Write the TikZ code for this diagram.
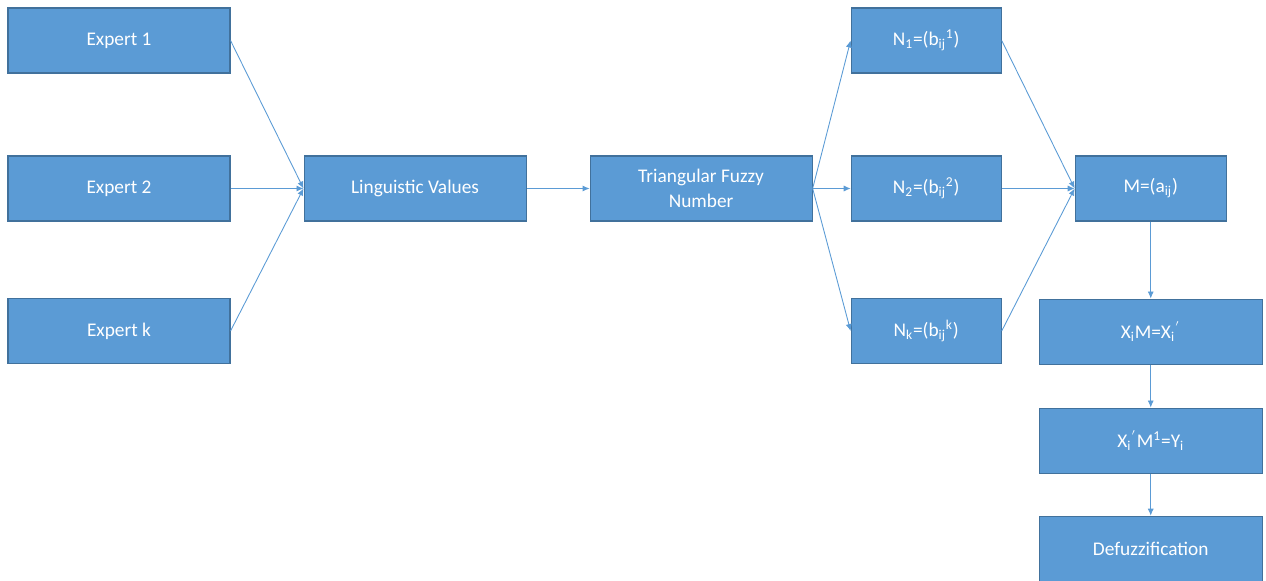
\documentclass[tikz,border=0pt]{standalone}
\usepackage{fontspec}
\setmainfont{Carlito}
\usetikzlibrary{arrows.meta, positioning}
\definecolor{boxblue}{RGB}{91,155,213}
\definecolor{edgeblue}{RGB}{65,113,156}

\begin{document}
\begin{tikzpicture}[
    box/.style={draw=edgeblue, line width=0.6pt, fill=boxblue, text=white, minimum height=1.3cm, minimum width=4.44cm, align=center, font=\fontsize{11}{14}\selectfont, inner sep=1pt},
    smallbox/.style={box, minimum width=3cm},
    arrow/.style={-{Latex[length=4pt, width=3.5pt]}, line width=0.5pt, draw=boxblue}
]
    \useasboundingbox (0,0) rectangle (25.32,-11.6);

    % Experts on the left
    \node[box] (expert1) at (2.38,-0.81) {Expert 1};
    \node[box] (expert2) at (2.38,-3.77) {Expert 2};
    \node[box] (expertk) at (2.38,-6.62) {Expert k};

    % Middle chain
    \node[box, right=1.46cm of expert2] (linguistic) {Linguistic Values};
    \node[box, right=1.26cm of linguistic] (triangular) {Triangular Fuzzy\\Number};

    % Fuzzy matrices
    \node[smallbox, right=0.76cm of triangular] (n2) {N\textsubscript{2}=(b\textsubscript{ij}\textsuperscript{2})};
    \node[smallbox] (n1) at (n2 |- expert1) {N\textsubscript{1}=(b\textsubscript{ij}\textsuperscript{1})};
    \node[smallbox] (nk) at (n2 |- expertk) {N\textsubscript{k}=(b\textsubscript{ij}\textsuperscript{k})};

    % Aggregated matrix and following steps
    \node[smallbox, minimum width=3.02cm, right=1.46cm of n2] (aggregate) {M=(a\textsubscript{ij})};
    \node[box, minimum width=4.46cm, below=1.54cm of aggregate] (ximult) {X\textsubscript{i}M=X\textsubscript{i}\textsuperscript{$'$}};
    \node[box, minimum width=4.46cm, below=0.86cm of ximult] (yi) {X\textsubscript{i}\textsuperscript{$'$}M\textsuperscript{1}=Y\textsubscript{i}};
    \node[box, minimum width=4.46cm, below=0.84cm of yi] (defuzz) {Defuzzification};

    % Connectors
    \foreach \e in {expert1, expert2, expertk}
      \draw[arrow] (\e.east) -- (linguistic.west);
    \draw[arrow] (linguistic) -- (triangular);
    \foreach \n in {n1, n2, nk} {
      \draw[arrow] (triangular.east) -- (\n.west);
      \draw[arrow] (\n.east) -- (aggregate.west);
    }
    \draw[arrow] (aggregate) -- (ximult);
    \draw[arrow] (ximult) -- (yi);
    \draw[arrow] (yi) -- (defuzz);

\end{tikzpicture}
\end{document}
